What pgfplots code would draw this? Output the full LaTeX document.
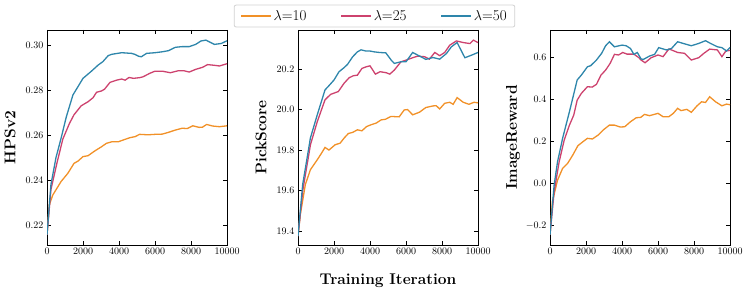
\documentclass[border=0pt]{standalone}
\usepackage{pgfplots}
\pgfplotsset{compat=1.18}
\definecolor{corange}{RGB}{241,145,40}
\definecolor{cpink}{RGB}{205,66,110}
\definecolor{cblue}{RGB}{46,134,171}
\definecolor{lgray}{RGB}{210,210,210}
\pgfplotsset{
  myax/.style={
    scale only axis, width=180pt, height=215pt,
    xmin=0, xmax=10000, xtick={0,2000,4000,6000,8000,10000},
    tick align=inside, tick pos=both, xticklabel pos=left, yticklabel pos=left,
    major tick length=4pt, minor tick num=0,
    scaled x ticks=false, scaled y ticks=false,
    x tick label style={/pgf/number format/1000 sep={}},
    tick label style={font=\fontsize{10}{12}\selectfont},
    every tick/.style={black, line width=0.6pt},
    axis line style={line width=0.8pt},
    every axis plot/.append style={line width=1.3pt, no markers},
    ylabel style={font=\bfseries\fontsize{15.5}{18}\selectfont, at={(axis description cs:-0.205,0.5)}, anchor=center},
  }
}
\begin{document}
\begin{tikzpicture}
\useasboundingbox (0,0) rectangle (747pt,292pt);
% HPSv2
\begin{axis}[myax, at={(47pt,47pt)}, anchor=south west,
  ymin=0.2111, ymax=0.3067, ytick={0.22,0.24,0.26,0.28,0.30},
  yticklabel style={/pgf/number format/.cd, fixed, fixed zerofill, precision=2},
  ylabel={HPSv2}]
\addplot[color=corange] coordinates {(0,0.2156)(130,0.2289)(320,0.2333)(780,0.2393)(1160,0.243)(1500,0.2474)(1720,0.2484)(2000,0.2504)(2280,0.2508)(2650,0.2529)(3030,0.2548)(3300,0.2563)(3600,0.257)(3960,0.257)(4240,0.2578)(4600,0.2588)(4900,0.2593)(5140,0.2603)(5620,0.2601)(6000,0.2603)(6400,0.2604)(6750,0.2612)(7130,0.2622)(7500,0.263)(7800,0.2629)(8100,0.2641)(8450,0.2634)(8640,0.2635)(8870,0.2647)(9200,0.264)(9580,0.2637)(10000,0.2641)};
\addplot[color=cpink] coordinates {(0,0.2156)(220,0.2358)(560,0.2478)(880,0.2582)(1250,0.2652)(1500,0.2690)(1900,0.273)(2280,0.2748)(2560,0.2766)(2750,0.279)(3030,0.2796)(3200,0.2804)(3500,0.2834)(3870,0.2844)(4150,0.2849)(4340,0.2844)(4560,0.2856)(4800,0.2852)(5140,0.2855)(5340,0.2859)(5700,0.2874)(6000,0.2884)(6400,0.2884)(6850,0.2877)(7300,0.2886)(7600,0.2886)(7900,0.288)(8260,0.2892)(8640,0.2901)(8920,0.2913)(9300,0.291)(9580,0.2907)(10000,0.2917)};
\addplot[color=cblue] coordinates {(0,0.2156)(220,0.2380)(500,0.2500)(780,0.2585)(1070,0.2680)(1440,0.2778)(2000,0.2852)(2470,0.2884)(2840,0.2911)(3100,0.2926)(3400,0.2953)(3600,0.2959)(4150,0.2966)(4700,0.2963)(4870,0.2959)(5100,0.2950)(5240,0.2948)(5530,0.2963)(6000,0.2966)(6400,0.2970)(6750,0.2975)(7130,0.2990)(7500,0.2993)(7900,0.2993)(8260,0.3003)(8550,0.3018)(8830,0.3022)(9300,0.3003)(9680,0.3007)(10000,0.3019)};
\end{axis}
% PickScore
\begin{axis}[myax, at={(298pt,47pt)}, anchor=south west,
  ymin=19.331, ymax=20.393, ytick={19.4,19.6,19.8,20.0,20.2},
  yticklabel style={/pgf/number format/.cd, fixed, fixed zerofill, precision=1},
  ylabel={PickScore},
  xlabel={Training Iteration},
  xlabel style={font=\bfseries\fontsize{15.5}{18}\selectfont, at={(axis description cs:0.5,-0.186)}, anchor=base},
  legend columns=3,
  legend style={name=leg, at={(axis description cs:0.425,1)}, anchor=south, yshift=3pt,
    draw=none, fill=white,
    font=\fontsize{15}{17}\selectfont, inner xsep=6pt, inner ysep=3pt,
    /tikz/every even column/.append style={column sep=32pt}},
  legend image code/.code={\draw[line width=1.3pt,#1] (0pt,0pt) -- (30pt,0pt);}]
\addplot[color=corange] coordinates {(0,19.375)(130,19.482)(410,19.63)(690,19.703)(1070,19.752)(1310,19.785)(1500,19.813)(1720,19.8)(2060,19.826)(2340,19.834)(2560,19.859)(2800,19.882)(3030,19.887)(3300,19.9)(3550,19.895)(3810,19.916)(4060,19.925)(4340,19.933)(4620,19.949)(4860,19.952)(5160,19.966)(5620,19.964)(5900,19.998)(6090,20.0)(6370,19.974)(6750,19.987)(7100,20.01)(7500,20.018)(7680,20.019)(7870,20.003)(8150,20.031)(8430,20.036)(8620,20.026)(8840,20.059)(9180,20.036)(9500,20.026)(9780,20.036)(10000,20.033)};
\addlegendentry{$\lambda$=10}
\addplot[color=cpink] coordinates {(0,19.375)(260,19.597)(690,19.826)(1070,19.94)(1500,20.048)(1810,20.075)(2240,20.089)(2560,20.13)(2840,20.157)(3070,20.167)(3300,20.17)(3550,20.203)(3780,20.211)(4000,20.216)(4300,20.175)(4560,20.187)(4900,20.182)(5100,20.175)(5350,20.195)(5720,20.236)(6000,20.244)(6370,20.256)(6650,20.264)(7030,20.261)(7300,20.249)(7600,20.282)(7870,20.266)(8150,20.282)(8430,20.318)(8800,20.339)(9180,20.331)(9550,20.326)(9740,20.343)(10000,20.331)};
\addlegendentry{$\lambda$=25}
\addplot[color=cblue] coordinates {(0,19.375)(260,19.63)(690,19.86)(1070,19.974)(1500,20.097)(1720,20.118)(2000,20.146)(2280,20.187)(2560,20.207)(2750,20.223)(3030,20.26)(3300,20.285)(3500,20.295)(3780,20.289)(4000,20.289)(4240,20.285)(4520,20.282)(4880,20.28)(5180,20.244)(5350,20.228)(5720,20.236)(6000,20.236)(6370,20.282)(6650,20.269)(7100,20.248)(7500,20.257)(7870,20.249)(8250,20.277)(8520,20.31)(8840,20.331)(9270,20.256)(9650,20.269)(10000,20.282)};
\addlegendentry{$\lambda$=50}
\end{axis}
\draw[lgray, line width=0.8pt, rounded corners=2pt] (leg.south west) rectangle (leg.north east);
% ImageReward
\begin{axis}[myax, at={(550pt,47pt)}, anchor=south west,
  ymin=-0.292, ymax=0.732, ytick={-0.2,0,0.2,0.4,0.6},
  yticklabel style={/pgf/number format/.cd, fixed, fixed zerofill, precision=1},
  ylabel={ImageReward}]
\addplot[color=corange] coordinates {(0,-0.244)(130,-0.086)(420,0.017)(700,0.073)(980,0.097)(1270,0.137)(1550,0.181)(1830,0.2)(2080,0.216)(2360,0.213)(2680,0.232)(2960,0.256)(3300,0.279)(3580,0.279)(3900,0.27)(4150,0.271)(4470,0.295)(4790,0.314)(5040,0.316)(5250,0.33)(5530,0.324)(6000,0.335)(6280,0.319)(6600,0.319)(6850,0.335)(7090,0.359)(7280,0.348)(7600,0.354)(7850,0.34)(8170,0.371)(8420,0.39)(8640,0.387)(8870,0.414)(9200,0.39)(9550,0.371)(9810,0.379)(10000,0.376)};
\addplot[color=cpink] coordinates {(0,-0.244)(230,-0.038)(510,0.105)(790,0.208)(1080,0.279)(1320,0.327)(1510,0.398)(1740,0.43)(2080,0.462)(2340,0.46)(2580,0.473)(2830,0.517)(3090,0.541)(3340,0.573)(3580,0.616)(3810,0.613)(4040,0.625)(4280,0.617)(4660,0.617)(4940,0.6)(5060,0.589)(5280,0.576)(5620,0.6)(6000,0.613)(6280,0.605)(6600,0.641)(6750,0.637)(7090,0.625)(7470,0.621)(7850,0.589)(8260,0.6)(8550,0.621)(8870,0.641)(9300,0.637)(9550,0.605)(9770,0.632)(10000,0.635)};
\addplot[color=cblue] coordinates {(0,-0.244)(230,-0.006)(420,0.105)(700,0.216)(1080,0.343)(1510,0.494)(1740,0.517)(2080,0.557)(2260,0.562)(2580,0.589)(2870,0.621)(3090,0.657)(3300,0.676)(3580,0.652)(4000,0.66)(4230,0.657)(4470,0.644)(4660,0.616)(4850,0.625)(5060,0.594)(5190,0.592)(5530,0.608)(5810,0.616)(6040,0.648)(6470,0.637)(6750,0.644)(7090,0.676)(7400,0.668)(7850,0.657)(8260,0.668)(8640,0.681)(8920,0.668)(9300,0.652)(9550,0.648)(9810,0.632)(10000,0.649)};
\end{axis}
\end{tikzpicture}
\end{document}
